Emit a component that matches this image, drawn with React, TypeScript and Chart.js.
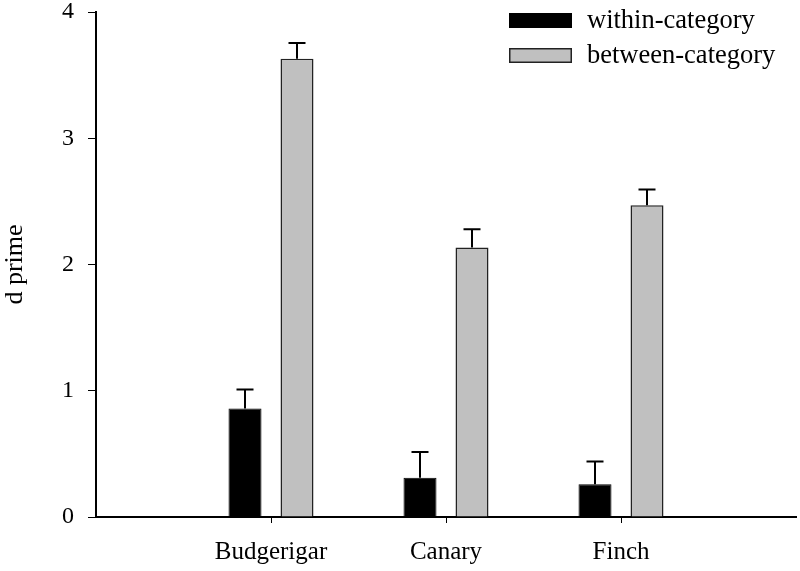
import React, { useEffect, useRef } from 'react';
import { Chart, registerables } from 'chart.js';

Chart.register(...registerables);

const categories = ['Budgerigar', 'Canary', 'Finch'];
const withinValues = [0.86, 0.31, 0.26];
const withinErrors = [0.15, 0.205, 0.18];
const betweenValues = [3.63, 2.135, 2.47];
const betweenErrors = [0.125, 0.145, 0.125];
const seriesLabels = ['within-category', 'between-category'];
const yMin = 0;
const yMax = 4;
const yStep = 1;
const yTitle = 'd prime';

const FONT = "'Liberation Serif', 'Times New Roman', serif";

const pad = (arr: any[], fill: any) => [fill, ...arr, fill];

const errorBarPlugin = {
  id: 'errorBars',
  afterDatasetsDraw(chart: any) {
    const ctx = chart.ctx;
    const yScale = chart.scales.y;
    chart.data.datasets.forEach((ds: any, di: number) => {
      const meta = chart.getDatasetMeta(di);
      meta.data.forEach((bar: any, i: number) => {
        const v = ds.data[i];
        const e = ds.errors ? ds.errors[i] : null;
        if (v == null || e == null) return;
        const base = yScale.getPixelForValue(v);
        const top = yScale.getPixelForValue(v + e);
        ctx.save();
        ctx.strokeStyle = '#000';
        ctx.lineWidth = 2;
        ctx.beginPath();
        ctx.moveTo(bar.x, base);
        ctx.lineTo(bar.x, top);
        ctx.moveTo(bar.x - 8.5, top);
        ctx.lineTo(bar.x + 8.5, top);
        ctx.stroke();
        ctx.restore();
      });
    });
  },
};

const legendPlugin = {
  id: 'customLegend',
  afterDraw(chart: any) {
    const ctx = chart.ctx;
    const boxX = 509;
    const boxW = 63;
    const boxH = 15;
    const rows = [13, 48];
    const textX = 587;
    ctx.save();
    chart.data.datasets.forEach((ds: any, i: number) => {
      const y = rows[i];
      ctx.fillStyle = ds.backgroundColor;
      ctx.fillRect(boxX, y, boxW, boxH);
      ctx.strokeStyle = ds.borderColor;
      ctx.lineWidth = 1.5;
      ctx.strokeRect(boxX + 0.75, y + 0.75, boxW - 1.5, boxH - 1.5);
      ctx.fillStyle = '#000';
      ctx.font = `26.5px ${FONT}`;
      ctx.textBaseline = 'middle';
      ctx.textAlign = 'left';
      ctx.fillText(ds.label, textX, y + boxH / 2 + 1);
    });
    ctx.restore();
  },
};

export default function App() {
  const ref = useRef<HTMLCanvasElement | null>(null);

  useEffect(() => {
    document.body.style.margin = '0';
    if (!ref.current) return;
    const chart = new Chart(ref.current, {
      type: 'bar',
      data: {
        labels: pad(categories, ''),
        datasets: [
          {
            label: seriesLabels[0],
            data: pad(withinValues, null),
            errors: pad(withinErrors, null),
            backgroundColor: '#000000',
            borderColor: '#000000',
            borderWidth: 1,
            categoryPercentage: 104 / 175,
            barPercentage: 33 / 52,
          } as any,
          {
            label: seriesLabels[1],
            data: pad(betweenValues, null),
            errors: pad(betweenErrors, null),
            backgroundColor: '#c0c0c0',
            borderColor: '#222222',
            borderWidth: 1.5,
            categoryPercentage: 104 / 175,
            barPercentage: 33 / 52,
          } as any,
        ],
      },
      options: {
        responsive: false,
        animation: false,
        layout: { padding: { top: 12, right: 4, left: 0, bottom: 0 } },
        plugins: {
          legend: { display: false },
          tooltip: { enabled: false },
        },
        scales: {
          x: {
            type: 'category',
            offset: false,
            grid: {
              offset: false,
              drawOnChartArea: false,
              tickLength: 6,
              lineWidth: 1,
              color: (c: any) => (c.index === 0 || c.index === categories.length + 1 ? 'rgba(0,0,0,0)' : '#000'),
            },
            border: { display: true, color: '#000', width: 2 },
            ticks: {
              font: { family: FONT, size: 25 },
              color: '#000',
              padding: 14,
              maxRotation: 0,
              autoSkip: false,
            },
            afterFit: (s: any) => {
              s.height = 54;
              s.paddingLeft = 0;
              s.paddingRight = 0;
            },
          },
          y: {
            min: yMin,
            max: yMax,
            ticks: {
              stepSize: yStep,
              font: { family: FONT, size: 24, lineHeight: 1 },
              color: '#000',
              padding: 14,
            },
            grid: { drawOnChartArea: false, tickLength: 8, lineWidth: 1, color: '#000' },
            border: { display: true, color: '#000', width: 2 },
            title: {
              display: true,
              text: yTitle,
              font: { family: FONT, size: 26 },
              color: '#000',
              padding: { top: 0, bottom: 0 },
            },
            afterFit: (s: any) => {
              s.width = 96;
              s.paddingTop = 0;
              s.paddingBottom = 0;
            },
          },
        },
      } as any,
      plugins: [errorBarPlugin, legendPlugin],
    });
    return () => chart.destroy();
  }, []);

  return (
    <div style={{ position: 'absolute', left: 0, top: 0, width: 800, height: 571, background: '#fff' }}>
      <canvas ref={ref} width={800} height={571} style={{ display: 'block' }} />
    </div>
  );
}
